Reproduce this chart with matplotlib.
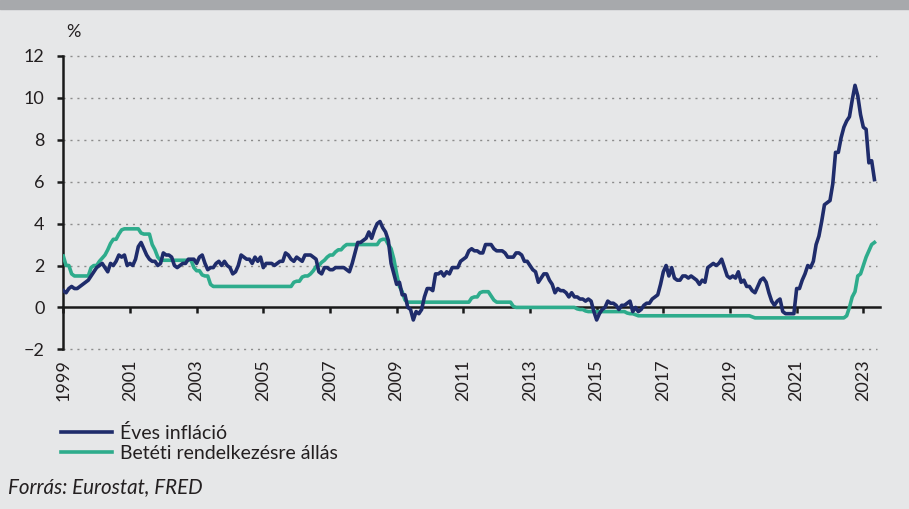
import matplotlib
matplotlib.use("Agg")
import matplotlib.pyplot as plt
import numpy as np

plt.rcParams['font.family'] = ['Lato', 'DejaVu Sans']

start_year = 1999
# Monthly values, Jan 1999 - May 2023
inflation = [
    0.8, 0.7, 0.9, 1.0, 0.9, 0.9, 1.0, 1.1, 1.2, 1.3, 1.5, 1.7,   # 1999
    1.9, 2.0, 2.1, 1.9, 1.7, 2.1, 2.0, 2.2, 2.5, 2.4, 2.5, 2.0,   # 2000
    2.1, 2.0, 2.3, 2.9, 3.1, 2.8, 2.5, 2.3, 2.2, 2.2, 2.0, 2.1,   # 2001
    2.6, 2.5, 2.5, 2.4, 2.0, 1.9, 2.0, 2.1, 2.1, 2.3, 2.3, 2.3,   # 2002
    2.1, 2.4, 2.5, 2.1, 1.8, 1.9, 1.9, 2.1, 2.2, 2.0, 2.2, 2.0,   # 2003
    1.9, 1.6, 1.7, 2.0, 2.5, 2.4, 2.3, 2.3, 2.1, 2.4, 2.2, 2.4,   # 2004
    1.9, 2.1, 2.1, 2.1, 2.0, 2.1, 2.2, 2.2, 2.6, 2.5, 2.3, 2.2,   # 2005
    2.4, 2.3, 2.2, 2.5, 2.5, 2.5, 2.4, 2.3, 1.7, 1.6, 1.9, 1.9,   # 2006
    1.8, 1.8, 1.9, 1.9, 1.9, 1.9, 1.8, 1.7, 2.1, 2.6, 3.1, 3.1,   # 2007
    3.2, 3.3, 3.6, 3.3, 3.7, 4.0, 4.1, 3.8, 3.6, 3.2, 2.1, 1.6,   # 2008
    1.1, 1.2, 0.6, 0.6, 0.0, -0.1, -0.6, -0.2, -0.3, -0.1, 0.5, 0.9,  # 2009
    0.9, 0.8, 1.6, 1.6, 1.7, 1.5, 1.7, 1.6, 1.9, 1.9, 1.9, 2.2,   # 2010
    2.3, 2.4, 2.7, 2.8, 2.7, 2.7, 2.6, 2.6, 3.0, 3.0, 3.0, 2.8,   # 2011
    2.7, 2.7, 2.7, 2.6, 2.4, 2.4, 2.4, 2.6, 2.6, 2.5, 2.2, 2.2,   # 2012
    2.0, 1.8, 1.7, 1.2, 1.4, 1.6, 1.6, 1.3, 1.1, 0.7, 0.9, 0.8,   # 2013
    0.8, 0.7, 0.5, 0.7, 0.5, 0.5, 0.4, 0.4, 0.3, 0.4, 0.3, -0.2,  # 2014
    -0.6, -0.3, -0.1, 0.0, 0.3, 0.2, 0.2, 0.1, -0.1, 0.1, 0.1, 0.2,  # 2015
    0.3, -0.2, 0.0, -0.2, -0.1, 0.1, 0.2, 0.2, 0.4, 0.5, 0.6, 1.1,  # 2016
    1.7, 2.0, 1.5, 1.9, 1.4, 1.3, 1.3, 1.5, 1.5, 1.4, 1.5, 1.4,   # 2017
    1.3, 1.1, 1.3, 1.2, 1.9, 2.0, 2.1, 2.0, 2.1, 2.3, 1.9, 1.5,   # 2018
    1.4, 1.5, 1.4, 1.7, 1.2, 1.3, 1.0, 1.0, 0.8, 0.7, 1.0, 1.3,   # 2019
    1.4, 1.2, 0.7, 0.3, 0.1, 0.3, 0.4, -0.2, -0.3, -0.3, -0.3, -0.3,  # 2020
    0.9, 0.9, 1.3, 1.6, 2.0, 1.9, 2.2, 3.0, 3.4, 4.1, 4.9, 5.0,   # 2021
    5.1, 5.9, 7.4, 7.4, 8.1, 8.6, 8.9, 9.1, 9.9, 10.6, 10.1, 9.2,  # 2022
    8.6, 8.5, 6.9, 7.0, 6.1,                                      # 2023
]
deposit_rate = [
    2.45, 2.0, 2.0, 1.6, 1.5, 1.5, 1.5, 1.5, 1.5, 1.5, 1.9, 2.0,   # 1999
    2.0, 2.2, 2.35, 2.5, 2.75, 3.05, 3.25, 3.25, 3.5, 3.7, 3.75, 3.75,  # 2000
    3.75, 3.75, 3.75, 3.75, 3.55, 3.5, 3.5, 3.5, 3.0, 2.75, 2.4, 2.25,  # 2001
    2.25, 2.25, 2.25, 2.25, 2.25, 2.25, 2.25, 2.25, 2.25, 2.25, 2.25, 1.9,  # 2002
    1.75, 1.75, 1.55, 1.5, 1.5, 1.1, 1.0, 1.0, 1.0, 1.0, 1.0, 1.0,  # 2003
    1.0, 1.0, 1.0, 1.0, 1.0, 1.0, 1.0, 1.0, 1.0, 1.0, 1.0, 1.0,    # 2004
    1.0, 1.0, 1.0, 1.0, 1.0, 1.0, 1.0, 1.0, 1.0, 1.0, 1.0, 1.2,    # 2005
    1.25, 1.25, 1.45, 1.5, 1.5, 1.6, 1.75, 1.95, 2.0, 2.15, 2.25, 2.4,  # 2006
    2.5, 2.5, 2.65, 2.75, 2.75, 2.9, 3.0, 3.0, 3.0, 3.0, 3.0, 3.0,  # 2007
    3.0, 3.0, 3.0, 3.0, 3.0, 3.0, 3.2, 3.25, 3.25, 3.0, 2.8, 2.3,  # 2008
    1.6, 1.0, 0.75, 0.35, 0.25, 0.25, 0.25, 0.25, 0.25, 0.25, 0.25, 0.25,  # 2009
    0.25, 0.25, 0.25, 0.25, 0.25, 0.25, 0.25, 0.25, 0.25, 0.25, 0.25, 0.25,  # 2010
    0.25, 0.25, 0.25, 0.45, 0.5, 0.5, 0.7, 0.75, 0.75, 0.75, 0.55, 0.35,  # 2011
    0.25, 0.25, 0.25, 0.25, 0.25, 0.25, 0.05, 0.0, 0.0, 0.0, 0.0, 0.0,  # 2012
    0.0, 0.0, 0.0, 0.0, 0.0, 0.0, 0.0, 0.0, 0.0, 0.0, 0.0, 0.0,    # 2013
    0.0, 0.0, 0.0, 0.0, 0.0, -0.07, -0.1, -0.1, -0.17, -0.2, -0.2, -0.2,  # 2014
    -0.2, -0.2, -0.2, -0.2, -0.2, -0.2, -0.2, -0.2, -0.2, -0.2, -0.2, -0.27,  # 2015
    -0.3, -0.3, -0.35, -0.4, -0.4, -0.4, -0.4, -0.4, -0.4, -0.4, -0.4, -0.4,  # 2016
    -0.4, -0.4, -0.4, -0.4, -0.4, -0.4, -0.4, -0.4, -0.4, -0.4, -0.4, -0.4,  # 2017
    -0.4, -0.4, -0.4, -0.4, -0.4, -0.4, -0.4, -0.4, -0.4, -0.4, -0.4, -0.4,  # 2018
    -0.4, -0.4, -0.4, -0.4, -0.4, -0.4, -0.4, -0.4, -0.45, -0.5, -0.5, -0.5,  # 2019
    -0.5, -0.5, -0.5, -0.5, -0.5, -0.5, -0.5, -0.5, -0.5, -0.5, -0.5, -0.5,  # 2020
    -0.5, -0.5, -0.5, -0.5, -0.5, -0.5, -0.5, -0.5, -0.5, -0.5, -0.5, -0.5,  # 2021
    -0.5, -0.5, -0.5, -0.5, -0.5, -0.5, -0.4, 0.0, 0.5, 0.75, 1.5, 1.6,  # 2022
    2.0, 2.4, 2.7, 3.0, 3.1,                                        # 2023
]
series_labels = ["Éves infláció", "Betéti rendelkezésre állás"]
year_ticks = list(range(1999, 2024, 2))
y_ticks = [-2, 0, 2, 4, 6, 8, 10, 12]

navy = '#1f2c6b'
green = '#2eac8c'
bg = '#e6e7e8'
txt = '#231f20'

W, H = 909, 509
fig = plt.figure(figsize=(W / 100, H / 100), dpi=100, facecolor=bg)
# top grey band
fig.patches.append(plt.Rectangle((0, 1 - 9 / H), 1, 9 / H, transform=fig.transFigure,
                                 color='#a7a9ac', zorder=0))

left, right = 63.3 / W, 880 / W
top, bottom = 1 - 56 / H, 1 - 349.3 / H
ax = fig.add_axes([left, bottom, right - left, top - bottom])
ax.set_facecolor(bg)

x_inf = start_year + np.arange(len(inflation)) / 12
x_dep = start_year + np.arange(len(deposit_rate)) / 12

ax.plot(x_inf, inflation, color=navy, lw=2.6, label=series_labels[0], zorder=4,
        solid_joinstyle='round')
ax.plot(x_dep, deposit_rate, color=green, lw=2.6, label=series_labels[1], zorder=3,
        solid_joinstyle='round')

ax.set_xlim(1999, 2023.5)
ax.set_ylim(-2, 12)

for yv in y_ticks:
    if yv != 0:
        ax.plot([1999, 2023.4], [yv, yv], color='#8c8c8c', lw=1.0,
                linestyle=(0, (1.5, 3.5)), zorder=1, clip_on=False)

for s in ['top', 'right']:
    ax.spines[s].set_visible(False)
ax.spines['left'].set_linewidth(1.8)
ax.spines['left'].set_color('#1a1a1a')
ax.spines['bottom'].set_position(('data', 0))
ax.spines['bottom'].set_linewidth(1.8)
ax.spines['bottom'].set_color('#1a1a1a')
ax.spines['bottom'].set_zorder(2)

ax.set_yticks(y_ticks)
ax.set_yticklabels(['\u22122' if v < 0 else str(v) for v in y_ticks])
ax.set_xticks(year_ticks)
ax.set_xticklabels([str(y) for y in year_ticks], rotation=90, va='top', ha='center')
ax.tick_params(axis='y', direction='out', length=4.5, width=1.8, color='#1a1a1a',
               labelsize=13, pad=9, labelcolor=txt)
ax.tick_params(axis='x', direction='out', length=4, width=1.8, color='#1a1a1a',
               labelsize=13, pad=33.5, labelcolor=txt)

fig.text(66 / W, 1 - 32 / H, '%', fontsize=13, color=txt, ha='left', va='center')

leg = fig.legend(loc='upper left', bbox_to_anchor=(61 / W, 1 - 424 / H), frameon=False,
                 borderpad=0, borderaxespad=0, handlelength=2.6, handletextpad=0.45,
                 labelspacing=0.13, fontsize=14)
for t in leg.get_texts():
    t.set_color(txt)

fig.text(8 / W, 1 - 487 / H, 'Forrás: Eurostat, FRED', fontsize=14.8, style='italic',
         color=txt, ha='left', va='center')

fig.savefig('out.png', dpi=100, facecolor=bg)
